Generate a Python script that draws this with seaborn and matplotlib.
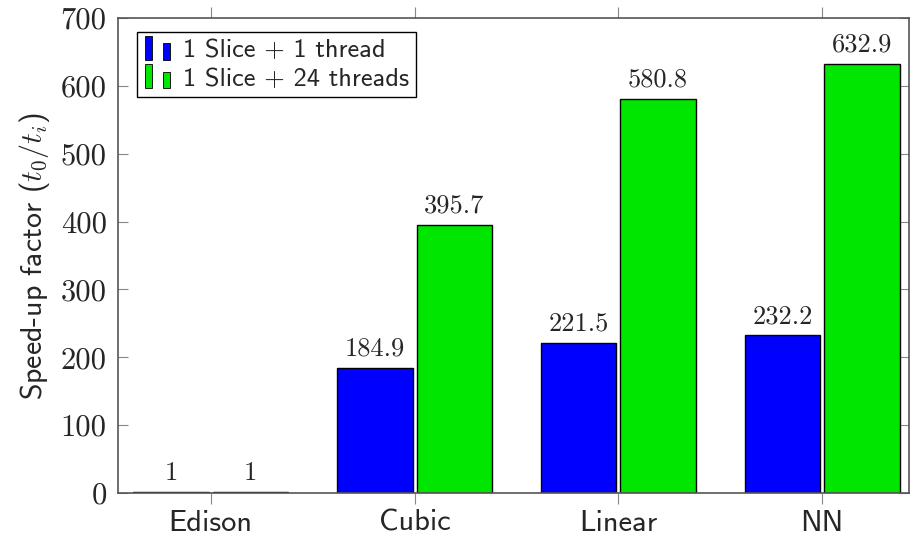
import matplotlib
matplotlib.use("Agg")
import matplotlib.pyplot as plt
from matplotlib.patches import Rectangle
from matplotlib.legend_handler import HandlerBase
import seaborn as sns
import pandas as pd

categories = ["Edison", "Cubic", "Linear", "NN"]
series_names = ["1 Slice + 1 thread", "1 Slice + 24 threads"]
one_thread = [1, 184.9, 221.5, 232.2]
many_threads = [1, 395.7, 580.8, 632.9]
y_ticks = [0, 100, 200, 300, 400, 500, 600, 700]
colors = ["#0000FF", "#00E600"]

df = pd.DataFrame({
    "cat": categories * 2,
    "series": [series_names[0]] * 4 + [series_names[1]] * 4,
    "value": one_thread + many_threads,
})

sns.set_theme(style="white")
plt.rcParams["mathtext.fontset"] = "cm"
plt.rcParams["axes.unicode_minus"] = False

fig = plt.figure(figsize=(9.13, 5.39), dpi=100)
ax = fig.add_axes([0.129, 0.0853, 0.8666, 0.8813])

sns.barplot(data=df, x="cat", y="value", hue="series", order=categories,
            hue_order=series_names, palette=colors, width=0.78, gap=0.05,
            edgecolor="black", linewidth=1.0, saturation=1, ax=ax, legend=False)

for cont in ax.containers:
    labels = [("%d" % v if v == int(v) and v < 10 else "%.1f" % v) for v in cont.datavalues]
    ax.bar_label(cont, labels=labels, padding=5, fontsize=19, family="cmr10")

ax.set_xlim(-0.456, 3.426)
ax.set_ylim(0, 700)
ax.set_yticks(y_ticks)
ax.set_yticklabels([str(t) for t in y_ticks], family="cmr10", fontsize=22)
ax.set_xticks(range(len(categories)))
ax.set_xticklabels(categories, family="cmss10", fontsize=22)
ax.set_xlabel("")
ax.set_ylabel(r"Speed-up factor ($t_0/t_i$)", family="cmss10", fontsize=21.5, labelpad=6)

for s in ax.spines.values():
    s.set_color("#555555")
    s.set_linewidth(1.2)

ax.tick_params(axis="y", which="both", direction="in", left=True, right=True,
               length=7, width=0.8, color="#888888", pad=8)
ax.tick_params(axis="x", which="both", direction="out", bottom=True, top=True,
               length=8, width=0.8, color="#888888", pad=4)


class TwoBarHandler(HandlerBase):
    def __init__(self, color):
        super().__init__()
        self.color = color

    def create_artists(self, legend, orig_handle, xdescent, ydescent, width, height, fontsize, trans):
        w = width * 0.22
        r1 = Rectangle((-xdescent + width * 0.05, -ydescent - 2), w, height + 4,
                       facecolor=self.color, edgecolor="black", linewidth=0.6, transform=trans)
        r2 = Rectangle((-xdescent + width * 0.6, -ydescent - 2), w, height * 0.75 + 2,
                       facecolor=self.color, edgecolor="black", linewidth=0.6, transform=trans)
        return [r1, r2]


h1 = Rectangle((0, 0), 1, 1, facecolor=colors[0])
h2 = Rectangle((0, 0), 1, 1, facecolor=colors[1])
leg = ax.legend([h1, h2], series_names,
                handler_map={h1: TwoBarHandler(colors[0]), h2: TwoBarHandler(colors[1])},
                loc="upper left", bbox_to_anchor=(0.024, 0.971), frameon=True, fancybox=False,
                edgecolor="black", framealpha=1, prop={"family": "cmss10", "size": 19},
                handlelength=1.25, handletextpad=0.25, borderpad=0.25, labelspacing=0.2,
                borderaxespad=0)
leg.get_frame().set_linewidth(1.0)

fig.savefig("out.png", dpi=100)
